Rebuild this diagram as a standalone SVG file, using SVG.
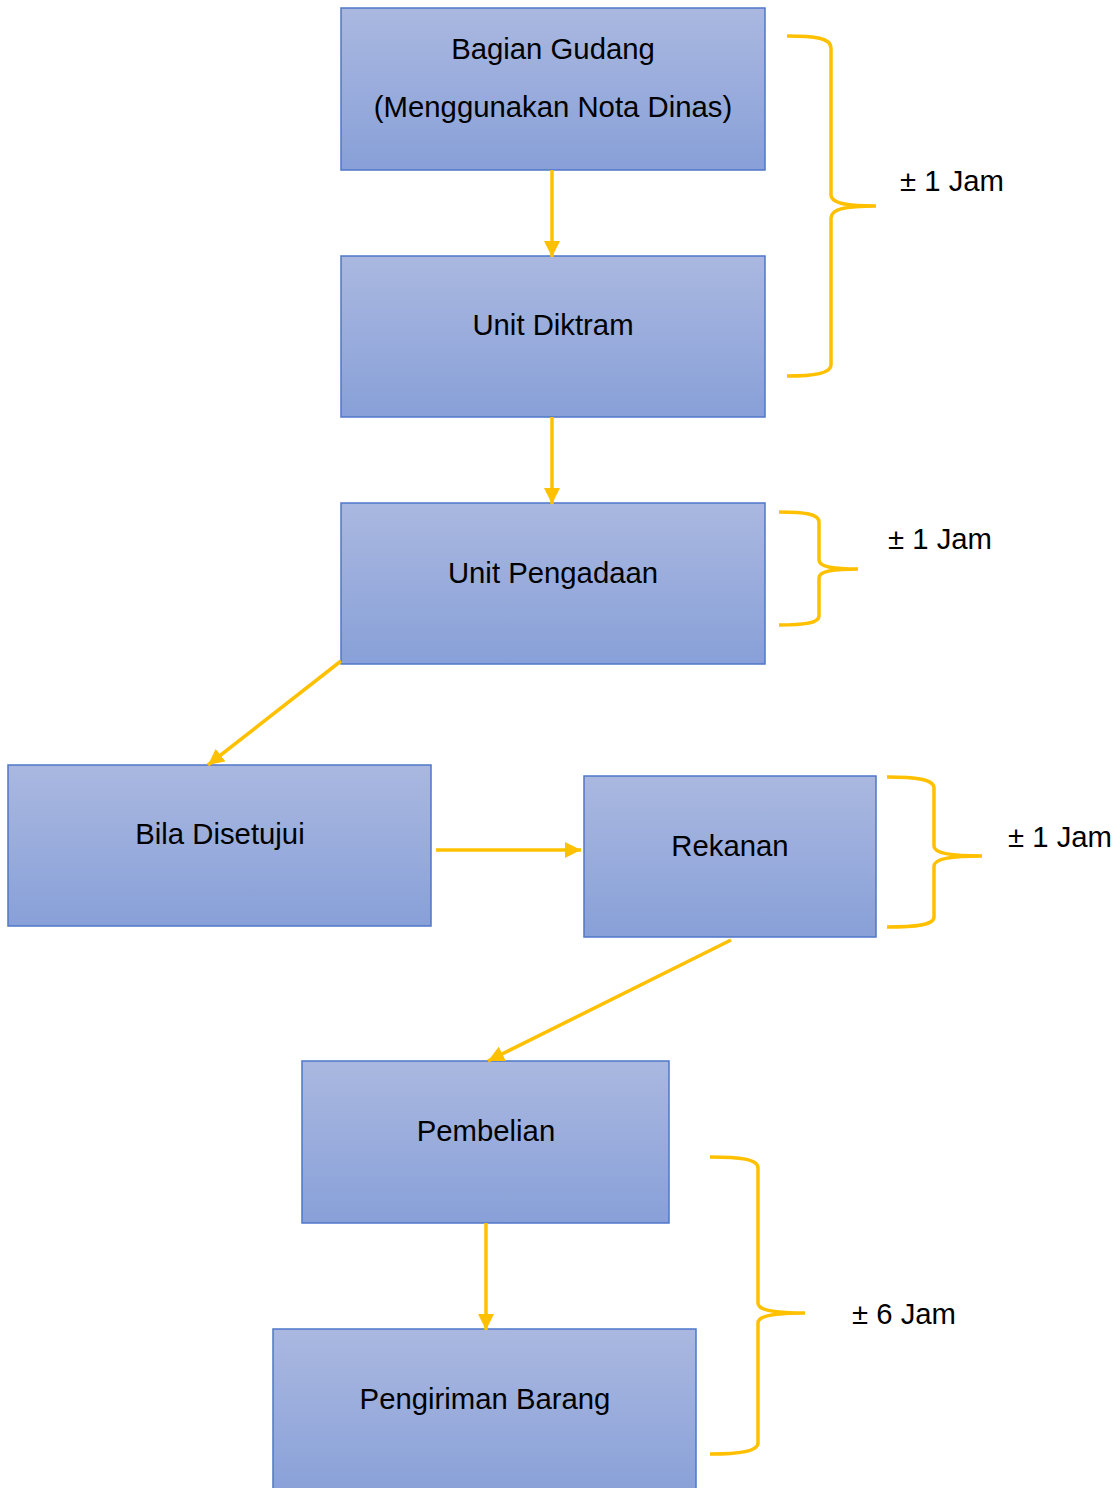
<svg xmlns="http://www.w3.org/2000/svg" width="1120" height="1488" viewBox="0 0 1120 1488">
<defs>
<linearGradient id="g" x1="0" y1="0" x2="0" y2="1">
<stop offset="0" stop-color="#AAB8E0"/>
<stop offset="1" stop-color="#88A0D8"/>
</linearGradient>
<marker id="ah" markerUnits="userSpaceOnUse" markerWidth="18" markerHeight="16" refX="16" refY="8" orient="auto">
<path d="M0,0 L16,8 L0,16 z" fill="#FFC000"/>
</marker>
<style>
.box{fill:url(#g);stroke:#4F77C9;stroke-width:1.5}
.t{font-family:"Liberation Sans",Arial,sans-serif;font-size:29.3px;fill:#000;text-anchor:middle}
.l{font-family:"Liberation Sans",Arial,sans-serif;font-size:29.3px;fill:#000}
.c{stroke:#FFC000;stroke-width:3.5;fill:none}
.b{stroke:#FFC000;stroke-width:3.5;fill:none}
</style>
</defs>
<rect width="1120" height="1488" fill="#fff"/>
<g id="n1"><rect class="box" x="341" y="8" width="424" height="162"/>
<text class="t" x="553" y="59">Bagian Gudang</text>
<text class="t" x="553" y="117">(Menggunakan Nota Dinas)</text></g>
<g id="n2"><rect class="box" x="341" y="256" width="424" height="161"/>
<text class="t" x="553" y="335">Unit Diktram</text></g>
<g id="n3"><rect class="box" x="341" y="503" width="424" height="161"/>
<text class="t" x="553" y="583">Unit Pengadaan</text></g>
<g id="n4"><rect class="box" x="8" y="765" width="423" height="161"/>
<text class="t" x="220" y="844">Bila Disetujui</text></g>
<g id="n5"><rect class="box" x="584" y="776" width="292" height="161"/>
<text class="t" x="730" y="856">Rekanan</text></g>
<g id="n6"><rect class="box" x="302" y="1061" width="367" height="162"/>
<text class="t" x="486" y="1141">Pembelian</text></g>
<g id="n7"><rect class="box" x="273" y="1329" width="423" height="170"/>
<text class="t" x="485" y="1409">Pengiriman Barang</text></g>
<g id="connectors">
<line class="c" x1="552" y1="170" x2="552" y2="257" marker-end="url(#ah)"/>
<line class="c" x1="552" y1="417" x2="552" y2="504" marker-end="url(#ah)"/>
<line class="c" x1="341" y1="661" x2="208" y2="765" marker-end="url(#ah)"/>
<line class="c" x1="436" y1="850" x2="581" y2="850" marker-end="url(#ah)"/>
<line class="c" x1="731" y1="940" x2="488" y2="1061" marker-end="url(#ah)"/>
<line class="c" x1="486" y1="1223" x2="486" y2="1330" marker-end="url(#ah)"/>
</g>
<g id="braces">
<path class="b" d="M787,36 C815,36 831,38 831,48 L831,195 C831,203 845,206 876,206 C845,206 831,209 831,218 L831,365 C831,373 815,376 787,376"/>
<path class="b" d="M779,512 C805,512 819,514 819,522 L819,560 C819,566 830,569 858,569 C830,569 819,572 819,578 L819,616 C819,623 805,625 779,625"/>
<path class="b" d="M887,777 C916,777 934,779 934,788 L934,846 C934,853 950,856 982,856 C950,856 934,859 934,866 L934,917 C934,925 916,927 887,927"/>
<path class="b" d="M710,1157 C740,1157 758,1159 758,1168 L758,1303 C758,1310 773,1313 805,1313 C773,1313 758,1316 758,1323 L758,1443 C758,1451 740,1454 710,1454"/>
</g>
<g id="labels">
<text class="l" x="900" y="191">± 1 Jam</text>
<text class="l" x="888" y="549">± 1 Jam</text>
<text class="l" x="1008" y="847">± 1 Jam</text>
<text class="l" x="852" y="1324">± 6 Jam</text>
</g>
</svg>
